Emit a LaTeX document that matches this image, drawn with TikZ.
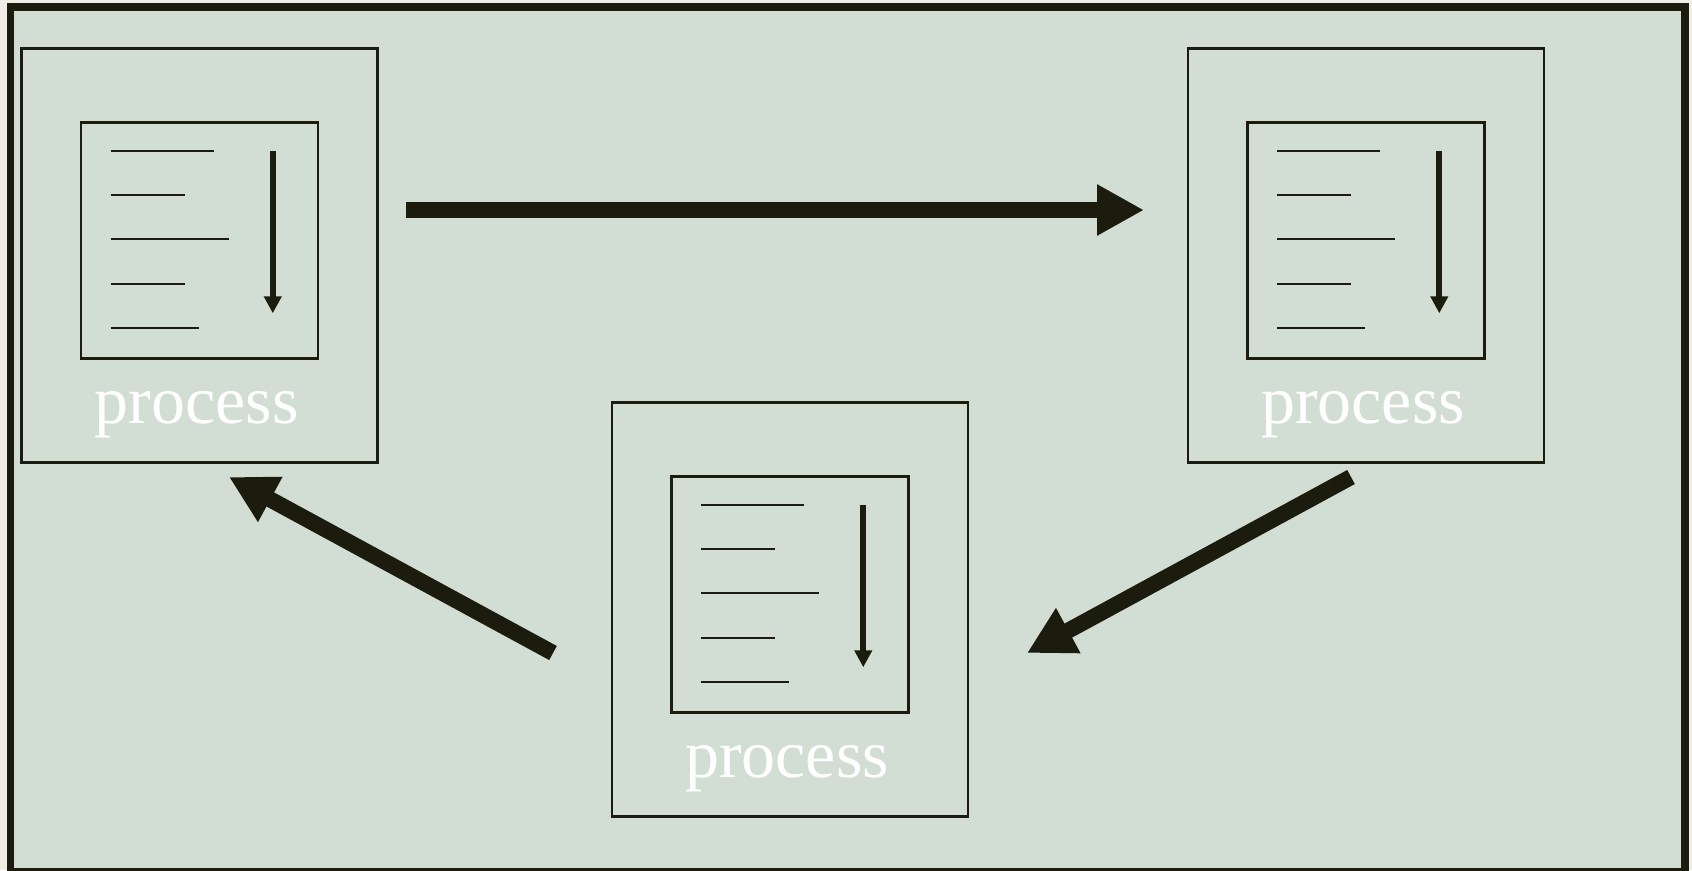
\documentclass[tikz,border=0pt]{standalone}
\usepackage{fontspec}
\setmainfont{Liberation Serif}
\usetikzlibrary{arrows.meta, positioning}
\definecolor{sage}{HTML}{D2DDD3}
\definecolor{ink}{HTML}{1B1C0E}
\definecolor{paper}{HTML}{F0EDE6}

\begin{document}
\begin{tikzpicture}[
    x=0.02cm, y=-0.02cm,
    outerbox/.style={rectangle, draw=ink, line width=0.05cm, minimum width=7.12cm, minimum height=8.28cm, inner sep=0pt},
    innerbox/.style={rectangle, draw=ink, line width=0.05cm, minimum width=4.74cm, minimum height=4.72cm, inner sep=0pt},
    proctext/.style={text=white, font=\fontsize{38.7}{46}\selectfont, inner sep=0pt, anchor=base},
    listline/.style={draw=ink, line width=0.045cm},
    smallarrow/.style={draw=ink, line width=0.12cm, -{Triangle[length=0.34cm, width=0.34cm]}},
    bigarrow/.style={draw=ink, line width=0.32cm, -{Triangle[length=0.94cm, width=0.96cm]}}
]

% Background and frame
\useasboundingbox (0,0) rectangle (1692,870);
\clip (0,0) rectangle (1692,870);
\fill[paper] (0,0) rectangle (1692,870);
\draw[ink, fill=sage, line width=0.16cm] (10.5,7) rectangle (1685,872);

% Process boxes
\foreach \nm/\cx/\cy in {lt/199.5/255.5, rt/1366/255.5, bt/790/609.5} {
    \node[outerbox] (\nm) at (\cx,\cy) {};
    \node[innerbox] (\nm-in) at (\cx,\cy-15) {};
    \foreach \dy/\len in {30/103, 74/74, 118/118, 163/74, 207/88}
        \draw[listline] ([shift={(31,\dy)}]\nm-in.north west) -- ++(\len,0);
    \draw[smallarrow] ([shift={(193,30)}]\nm-in.north west) -- ++(0,162);
    \node[proctext] (\nm-txt) at ([shift={(-3,376)}]\nm.north) {process};
}

% Arrows
\coordinate (lt-out) at (406,210);
\coordinate (rt-in) at (1144,210);
\coordinate (rt-out) at (1351,477);
\coordinate (bt-in) at (1027,653);
\coordinate (bt-out) at (553,653);
\coordinate (lt-in) at (229,477);

\draw[bigarrow] (lt-out) -- (rt-in);
\draw[bigarrow] (rt-out) -- (bt-in);
\draw[bigarrow] (bt-out) -- (lt-in);

\end{tikzpicture}
\end{document}
